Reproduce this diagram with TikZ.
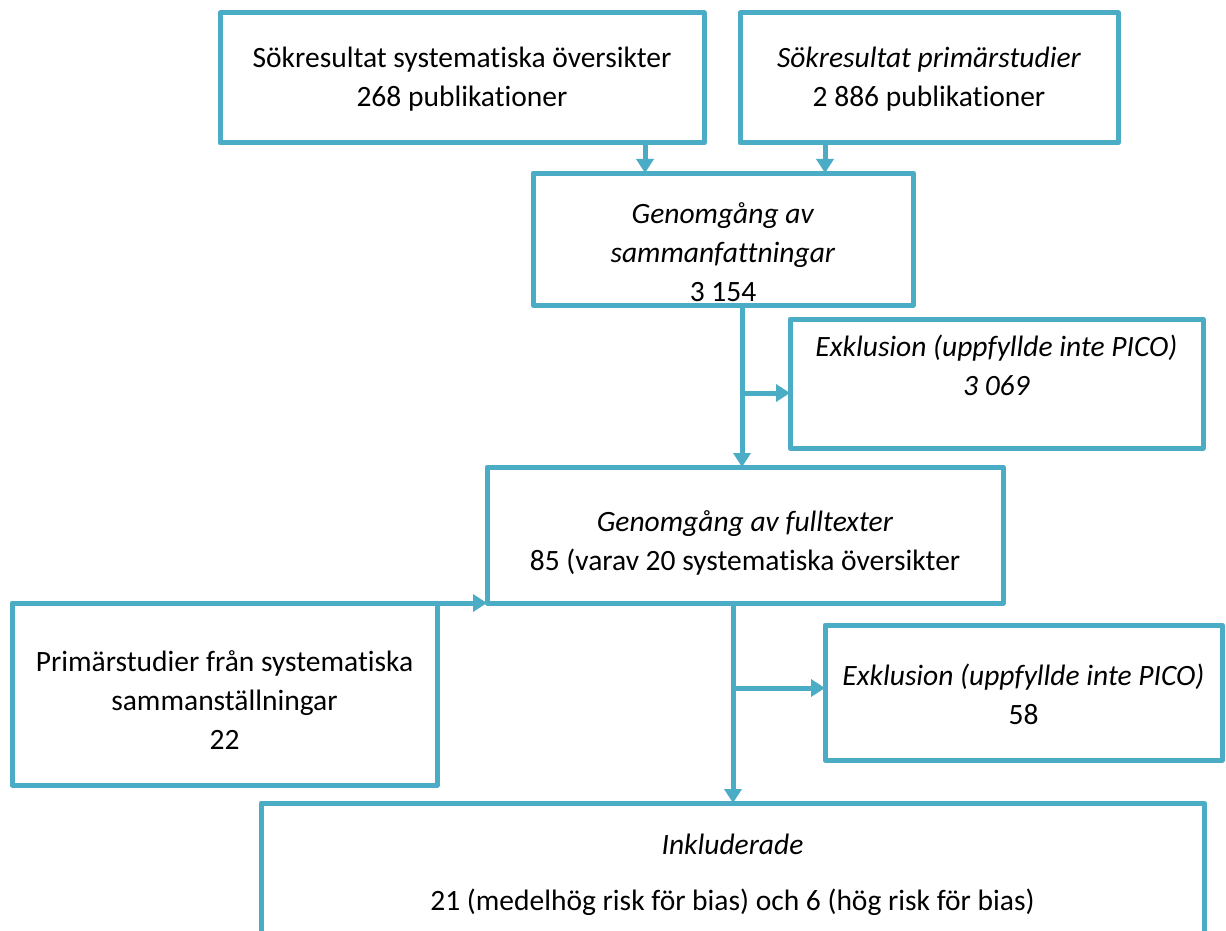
\documentclass[tikz,border=0pt]{standalone}
\usepackage{fontspec}
\setmainfont{Carlito}[Ligatures=NoCommon]
\usetikzlibrary{arrows.meta,calc}
\definecolor{boxblue}{HTML}{4BACC6}
\begin{document}
\begin{tikzpicture}[x=1pt,y=-1pt,
  box/.style={draw=boxblue,line width=5pt,line join=round,outer sep=0pt,inner sep=0pt},
  txt/.style={align=center,font=\fontsize{29.5}{39}\selectfont,inner sep=0pt},
  arr/.style={draw=boxblue,line width=5pt,-{Triangle[width=17pt,length=14pt]}}]
\clip (0,0) rectangle (1226,931);
\useasboundingbox (0,0) rectangle (1226,931);
% boxes
\node[box,minimum width=484pt,minimum height=130pt] (A) at (462,78) {};
\node[box,minimum width=378pt,minimum height=130pt] (B) at (929,78) {};
\node[box,minimum width=380pt,minimum height=132pt] (C) at (723,239) {};
\node[box,minimum width=413pt,minimum height=129pt] (E) at (996.5,383.5) {};
\node[box,minimum width=516pt,minimum height=136pt] (D) at (745,535) {};
\node[box,minimum width=425pt,minimum height=182pt] (F) at (224.5,694) {};
\node[box,minimum width=397pt,minimum height=135pt] (H) at (1023.5,692.5) {};
\node[box,minimum width=943pt,minimum height=170pt] (G) at (732.5,888) {};
% texts
\node[txt] (At) at (462,79) {Sökresultat systematiska översikter\\268 publikationer};
\node[txt] (Bt) at (929,79) {\textit{Sökresultat primärstudier}\\2 886 publikationer};
\node[txt] (Ct) at (723,252) {\textit{Genomgång av}\\\textit{sammanfattningar}\\3 154};
\node[txt] (Et) at (996.5,365) {\textit{Exklusion (uppfyllde inte PICO)}\\\textit{3 069}};
\node[txt] (Dt) at (745,543) {\textit{Genomgång av fulltexter}\\85 (varav 20 systematiska översikter};
\node[txt] (Ft) at (224.5,700) {Primärstudier från systematiska\\sammanställningar\\22};
\node[txt] (Ht) at (1023.5,694) {\textit{Exklusion (uppfyllde inte PICO)}\\58};
\node[txt] (Gt) at (732.5,875) {\textit{Inkluderade}\\[17pt]21 (medelhög risk för bias) och 6 (hög risk för bias)};
% connectors
\draw[arr] ([xshift=-59pt]A.south east) -- ([xshift=-59pt]A.south east |- C.north);
\draw[arr] ([xshift=85pt]B.south west) -- ([xshift=85pt]B.south west |- C.north);
\coordinate (c1) at ([xshift=19pt]C.south);
\draw[arr] (c1) -- (c1 |- D.north);
\coordinate (b1) at (c1 |- 0,393);
\draw[arr] (b1) -- (b1 -| E.west);
\coordinate (d1) at ([xshift=-12pt]D.south);
\draw[arr] (d1) -- (d1 |- G.north);
\coordinate (b2) at (d1 |- 0,688);
\draw[arr] (b2) -- (b2 -| H.west);
\draw[arr] (F.north east) -- (D.south west);
\end{tikzpicture}
\end{document}
